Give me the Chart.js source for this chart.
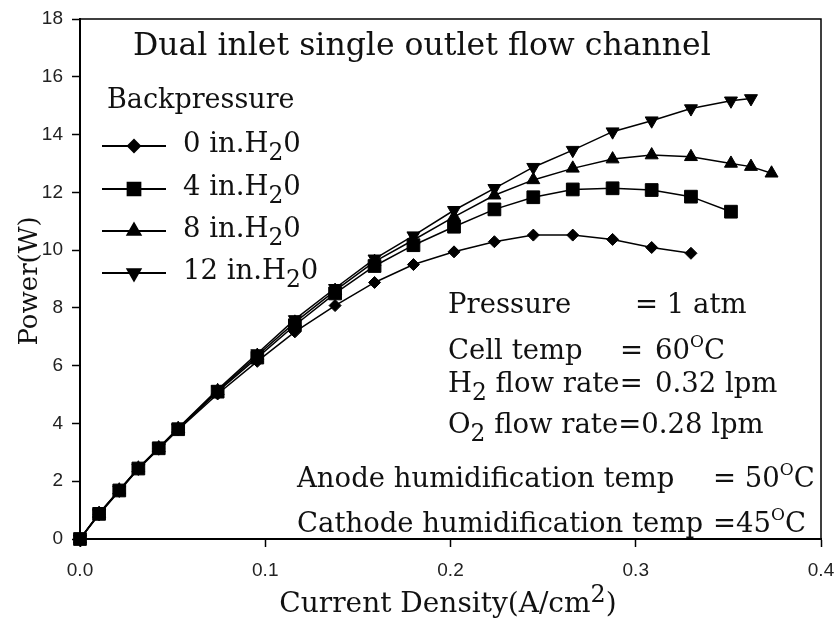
<!DOCTYPE html>
<html>
<head>
<meta charset="utf-8">
<script src="https://cdn.jsdelivr.net/npm/chart.js@4.4.0/dist/chart.umd.min.js"></script>
<style>
  html, body { margin: 0; padding: 0; background: #fff; }
  #wrap { width: 839px; height: 621px; }
</style>
</head>
<body>
<div id="wrap"><canvas id="chart" width="839" height="621"></canvas></div>
<script>
// current density (A/cm2), same sampling for every run
const currentDensity = [0, 0.0103, 0.0212, 0.0315, 0.0425, 0.053, 0.0743, 0.0957, 0.116, 0.1377, 0.159,
    0.18, 0.2019, 0.2237, 0.2447, 0.266, 0.2875, 0.3086, 0.3298, 0.3514, 0.3622, 0.3733]

// power (W), one list per backpressure
const power0 = [0, 0.85, 1.66, 2.42, 3.12, 3.78, 5.02, 6.15, 7.17, 8.08, 8.88,
    9.5, 9.94, 10.29, 10.52, 10.52, 10.37, 10.09, 9.89]
const power4 = [0, 0.87, 1.68, 2.44, 3.14, 3.8, 5.1, 6.28, 7.4, 8.5, 9.45,
    10.17, 10.81, 11.41, 11.83, 12.1, 12.14, 12.08, 11.85, 11.33]
const power8 = [0, 0.88, 1.69, 2.45, 3.15, 3.82, 5.13, 6.35, 7.5, 8.6, 9.6,
    10.35, 11.15, 11.9, 12.43, 12.83, 13.15, 13.29, 13.23, 13.0, 12.89, 12.66]
const power12 = [0, 0.89, 1.7, 2.46, 3.16, 3.84, 5.17, 6.42, 7.6, 8.68, 9.7,
    10.5, 11.38, 12.14, 12.87, 13.46, 14.1, 14.48, 14.9, 15.17, 15.25]

const backpressures = ['0', '4', '8', '12']
const xTicks = [0, 0.1, 0.2, 0.3, 0.4]
const xTickLabels = ['0.0', '0.1', '0.2', '0.3', '0.4']
const yTicks = [0, 2, 4, 6, 8, 10, 12, 14, 16, 18]

const SERIF = '"DejaVu Serif", serif'
const SANS = '"Liberation Sans", Arial, sans-serif'
const INK = '#111'

function makeSeries(label, values, style, radius, rotation) {
    return {
        label: label,
        data: values.map((v, i) => ({ x: currentDensity[i], y: v })),
        showLine: true,
        borderColor: '#000',
        backgroundColor: '#000',
        borderWidth: 1.5,
        pointStyle: style,
        pointRadius: radius,
        pointRotation: rotation,
        pointBorderWidth: 1,
        pointBackgroundColor: '#000',
        pointBorderColor: '#000',
        tension: 0,
        clip: false
    }
}

const datasets = [
    makeSeries('0 in.H₂0', power0, 'rectRot', 6, 0),
    makeSeries('4 in.H₂0', power4, 'rect', 9, 0),
    makeSeries('8 in.H₂0', power8, 'triangle', 7.5, 0),
    makeSeries('12 in.H₂0', power12, 'triangle', 7.5, 180)
]

// text with sub / superscripts: parts = [[text, kind], ...]
function partStyle(kind, size) {
    if (kind == 'sub') return { s: size * 0.85, dy: size * 0.3 }
    if (kind == 'sup') return { s: size * 0.85, dy: -size * 0.35 }
    if (kind == 'deg') return { s: size * 0.62, dy: -size * 0.45 }
    return { s: size, dy: 0 }
}

function richWidth(ctx, parts, size) {
    let w = 0
    parts.forEach(([t, kind]) => {
        ctx.font = `${partStyle(kind, size).s}px ${SERIF}`
        w += ctx.measureText(t).width
    })
    return w
}

function richText(ctx, parts, x, y, size) {
    let cx = x
    ctx.textAlign = 'left'
    ctx.textBaseline = 'alphabetic'
    parts.forEach(([t, kind]) => {
        const st = partStyle(kind, size)
        ctx.font = `${st.s}px ${SERIF}`
        ctx.fillText(t, cx, y + st.dy)
        cx += ctx.measureText(t).width
    })
    return cx
}

const decorations = {
    id: 'decorations',
    afterDraw(chart) {
        const ctx = chart.ctx
        const area = chart.chartArea
        ctx.save()

        // frame on top and right
        ctx.strokeStyle = '#000'
        ctx.lineWidth = 1.5
        ctx.beginPath()
        ctx.moveTo(area.left, area.top)
        ctx.lineTo(area.right, area.top)
        ctx.lineTo(area.right, area.bottom)
        ctx.stroke()

        ctx.fillStyle = INK

        // title inside the plot
        richText(ctx, [['Dual inlet single outlet flow channel', '']], 133, 55, 31.5)

        // legend
        richText(ctx, [['Backpressure', '']], 107, 108, 27)
        const rowBase = [152, 195, 237, 279]
        datasets.forEach((ds, i) => {
            const ly = rowBase[i] - 6
            ctx.strokeStyle = '#000'
            ctx.lineWidth = 2
            ctx.beginPath()
            ctx.moveTo(102, ly)
            ctx.lineTo(166, ly)
            ctx.stroke()
            ctx.fillStyle = '#000'
            Chart.helpers.drawPoint(ctx, {
                pointStyle: ds.pointStyle, radius: ds.pointRadius,
                rotation: ds.pointRotation, borderWidth: 1
            }, 134, ly)
            ctx.fillStyle = INK
            richText(ctx, [[backpressures[i] + ' in.H', ''], ['2', 'sub'], ['0', '']], 183, rowBase[i], 27.5)
        })

        // operating conditions
        const fs = 27.5
        richText(ctx, [['Pressure', '']], 448, 313, fs)
        richText(ctx, [['= 1 atm', '']], 635, 313, fs)
        richText(ctx, [['Cell temp', '']], 448, 359, fs)
        richText(ctx, [['=', '']], 620, 359, fs)
        richText(ctx, [['60', ''], ['O', 'deg'], ['C', '']], 655, 359, fs)
        richText(ctx, [['H', ''], ['2', 'sub'], [' flow rate=', '']], 448, 392, fs)
        richText(ctx, [['0.32 lpm', '']], 655, 392, fs)
        richText(ctx, [['O', ''], ['2', 'sub'], [' flow rate=0.28 lpm', '']], 448, 433, fs)
        richText(ctx, [['Anode humidification temp', '']], 297, 487, fs)
        richText(ctx, [['= 50', ''], ['O', 'deg'], ['C', '']], 713, 487, fs)
        richText(ctx, [['Cathode humidification temp', '']], 297, 532, fs)
        richText(ctx, [['=45', ''], ['O', 'deg'], ['C', '']], 713, 532, fs)

        // axis titles
        const xt = [['Current Density(A/cm', ''], ['2', 'sup'], [')', '']]
        const xw = richWidth(ctx, xt, 28)
        richText(ctx, xt, 448 - xw / 2, 612, 28)

        ctx.save()
        ctx.translate(37, 281)
        ctx.rotate(-Math.PI / 2)
        ctx.font = `26px ${SERIF}`
        ctx.textAlign = 'center'
        ctx.textBaseline = 'alphabetic'
        ctx.fillText('Power(W)', 0, 0)
        ctx.restore()

        ctx.restore()
    }
}

new Chart(document.getElementById('chart'), {
    type: 'scatter',
    data: { datasets: datasets },
    options: {
        responsive: false,
        devicePixelRatio: 1,
        animation: false,
        layout: { padding: { left: 0, top: 19, right: 18, bottom: 0 } },
        plugins: {
            legend: { display: false },
            title: { display: false },
            tooltip: { enabled: false }
        },
        scales: {
            x: {
                type: 'linear',
                min: 0,
                max: 0.4,
                afterBuildTicks: (axis) => { axis.ticks = xTicks.map(v => ({ value: v })) },
                afterFit: (axis) => {
                    axis.height = 82
                    axis.paddingLeft = 0
                    axis.paddingRight = 0
                },
                ticks: {
                    callback: (value, index) => xTickLabels[index],
                    font: { family: SANS, size: 19 },
                    color: '#222',
                    padding: 12,
                    maxRotation: 0,
                    autoSkip: false
                },
                grid: { drawOnChartArea: false, tickLength: 8, tickWidth: 1.5, tickColor: '#000' },
                border: { color: '#000', width: 2 }
            },
            y: {
                min: 0,
                max: 18,
                afterBuildTicks: (axis) => { axis.ticks = yTicks.map(v => ({ value: v })) },
                afterFit: (axis) => {
                    axis.width = 80
                    axis.paddingTop = 0
                    axis.paddingBottom = 0
                },
                ticks: {
                    font: { family: SANS, size: 19 },
                    color: '#222',
                    padding: 9,
                    autoSkip: false
                },
                grid: { drawOnChartArea: false, tickLength: 8, tickWidth: 1.5, tickColor: '#000' },
                border: { color: '#000', width: 2 }
            }
        }
    },
    plugins: [decorations]
})
</script>
</body>
</html>
